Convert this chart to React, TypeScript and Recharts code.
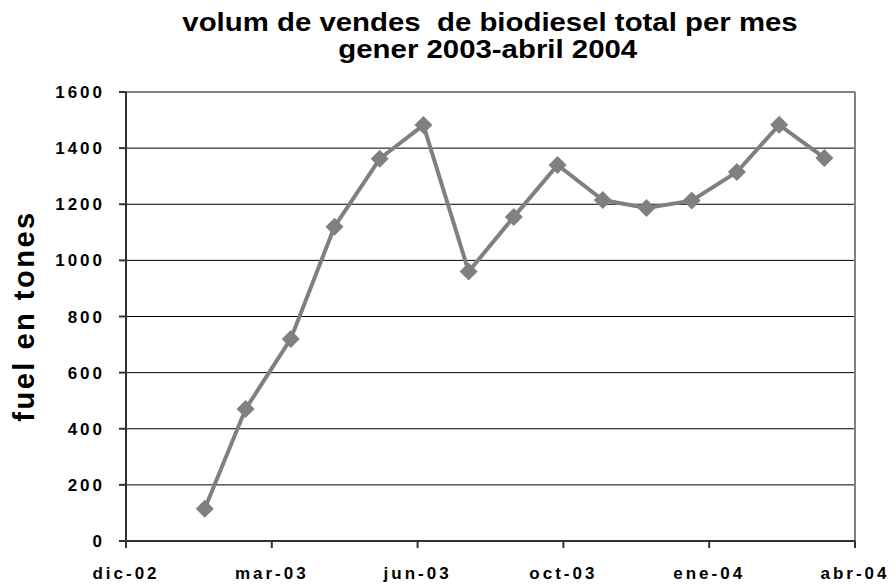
import { LineChart, Line, XAxis, YAxis, CartesianGrid, ReferenceLine } from 'recharts';

// month-end dates of each sales figure
const monthEnds = [
  '2003-01-31', '2003-02-28', '2003-03-31', '2003-04-30', '2003-05-31',
  '2003-06-30', '2003-07-31', '2003-08-31', '2003-09-30', '2003-10-31',
  '2003-11-30', '2003-12-31', '2004-01-31', '2004-02-29', '2004-03-31',
];
const salesTons = [115, 470, 720, 1120, 1362, 1482, 960, 1155, 1340, 1215, 1187, 1213, 1315, 1483, 1365];

const axisStart = '2002-12-08';
const tickStepDays = 100;
const tickLabels = ['dic-02', 'mar-03', 'jun-03', 'oct-03', 'ene-04', 'abr-04'];
const yTicks = [0, 200, 400, 600, 800, 1000, 1200, 1400, 1600];

const DAY = 86400000;
const startTs = Date.parse(axisStart);
const xTicks = tickLabels.map((_, i) => startTs + i * tickStepDays * DAY);
const xMax = xTicks[xTicks.length - 1];

const data = monthEnds.map((d, i) => ({ t: Date.parse(d), tons: salesTons[i] }));

const FONT = '"Liberation Sans", Arial, sans-serif';
const GRAY = '#808080';

function Diamond(props: { cx?: number; cy?: number }) {
  const { cx, cy } = props;
  if (cx == null || cy == null) return null;
  const r = 9;
  return (
    <polygon
      points={`${cx},${cy - r} ${cx + r},${cy} ${cx},${cy + r} ${cx - r},${cy}`}
      fill={GRAY}
    />
  );
}

const tickStyle = { fontSize: 17, fontWeight: 700, fill: '#000', fontFamily: FONT, letterSpacing: 3 };

export default function App() {
  return (
    <div style={{ position: 'absolute', left: 0, top: 0, width: 895, height: 587, background: '#fff' }}>
      <LineChart width={895} height={587} data={data} margin={{ top: 92, right: 40, bottom: 0, left: 66 }}>
        <CartesianGrid horizontal vertical={false} stroke="#000" strokeWidth={1} />
        <XAxis
          dataKey="t"
          type="number"
          domain={[startTs, xMax]}
          ticks={xTicks}
          tickFormatter={(v: number) => tickLabels[xTicks.indexOf(v)] ?? ''}
          tick={tickStyle}
          tickLine={{ stroke: '#333', strokeWidth: 2 }}
          tickSize={7}
          tickMargin={19}
          axisLine={{ stroke: '#333', strokeWidth: 2 }}
          height={46}
          interval={0}
        />
        <YAxis
          domain={[0, 1600]}
          ticks={yTicks}
          tick={tickStyle}
          tickLine={{ stroke: '#333', strokeWidth: 2 }}
          tickSize={7}
          tickMargin={14}
          axisLine={{ stroke: '#333', strokeWidth: 2 }}
          width={60}
          interval={0}
        />
        <ReferenceLine y={1600} stroke={GRAY} strokeWidth={2} />
        <ReferenceLine x={xMax} stroke={GRAY} strokeWidth={2} />
        <Line
          type="linear"
          dataKey="tons"
          stroke={GRAY}
          strokeWidth={4}
          dot={(p: any) => <Diamond key={p.index} cx={p.cx} cy={p.cy} />}
          activeDot={false}
          isAnimationActive={false}
        />
      </LineChart>
      <svg
        width={895}
        height={587}
        style={{ position: 'absolute', left: 0, top: 0, pointerEvents: 'none' }}
      >
        {/* title glyphs in the original are wide, so stretch horizontally */}
        <g transform="translate(490 0) scale(1.13 1)">
          <text x={0} y={31} textAnchor="middle" fontFamily={FONT} fontWeight={700} fontSize={26} style={{ whiteSpace: 'pre' }}>
            volum de vendes  de biodiesel total per mes
          </text>
          <text x={-2} y={58} textAnchor="middle" fontFamily={FONT} fontWeight={700} fontSize={26}>
            gener 2003-abril 2004
          </text>
        </g>
        <text
          x={34}
          y={316}
          transform="rotate(-90 34 316)"
          textAnchor="middle"
          fontFamily={FONT}
          fontWeight={700}
          fontSize={29}
          letterSpacing={2.5}
        >
          fuel en tones
        </text>
      </svg>
    </div>
  );
}
